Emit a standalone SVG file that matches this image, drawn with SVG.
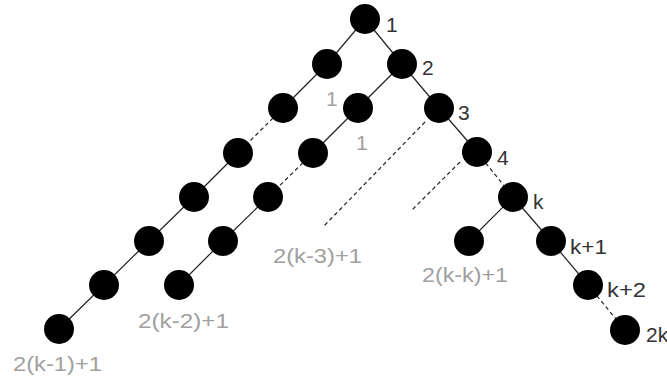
<svg xmlns="http://www.w3.org/2000/svg" width="667" height="379" viewBox="0 0 667 379">
<style>
.n{fill:#000}
.e{stroke:#222;stroke-width:1.2;fill:none}
.d{stroke-dasharray:4 3}
.lb{font-family:"Liberation Sans",Arial,sans-serif;font-size:21px;fill:#333}
.lg{font-family:"Liberation Sans",Arial,sans-serif;font-size:21px;fill:#a0a0a0}
</style>
<rect width="667" height="379" fill="#fff"/>
<g id="connectors">
<line class="e" x1="365" y1="19" x2="327" y2="64"/>
<line class="e" x1="327" y1="64" x2="283" y2="108"/>
<line class="e d" x1="283" y1="108" x2="238" y2="153"/>
<line class="e" x1="238" y1="153" x2="194" y2="197"/>
<line class="e" x1="194" y1="197" x2="149" y2="241"/>
<line class="e" x1="149" y1="241" x2="104" y2="285"/>
<line class="e" x1="104" y1="285" x2="59" y2="329"/>
<line class="e" x1="402" y1="64" x2="358" y2="108"/>
<line class="e" x1="358" y1="108" x2="313" y2="153"/>
<line class="e d" x1="313" y1="153" x2="268" y2="197"/>
<line class="e" x1="268" y1="197" x2="223" y2="241"/>
<line class="e" x1="223" y1="241" x2="179" y2="285"/>
<line class="e" x1="365" y1="19" x2="402" y2="64"/>
<line class="e" x1="402" y1="64" x2="439" y2="108"/>
<line class="e" x1="439" y1="108" x2="477" y2="152"/>
<line class="e d" x1="477" y1="152" x2="513" y2="197"/>
<line class="e" x1="513" y1="197" x2="469" y2="241"/>
<line class="e" x1="513" y1="197" x2="551" y2="241"/>
<line class="e" x1="551" y1="241" x2="588" y2="285"/>
<line class="e d" x1="588" y1="285" x2="625" y2="330"/>
<line class="e d" x1="425" y1="122" x2="323" y2="227"/>
<line class="e d" x1="460" y1="162" x2="411" y2="211"/>
</g>
<g id="n1"><circle class="n" cx="365" cy="19" r="15"/><text class="lb" x="386" y="32">1</text></g>
<g id="nL1"><circle class="n" cx="327" cy="64" r="15"/><text class="lg" x="326" y="106">1</text></g>
<g id="nL2"><circle class="n" cx="283" cy="108" r="15"/></g>
<g id="nL3"><circle class="n" cx="238" cy="153" r="15"/></g>
<g id="nL4"><circle class="n" cx="194" cy="197" r="15"/></g>
<g id="nL5"><circle class="n" cx="149" cy="241" r="15"/></g>
<g id="nL6"><circle class="n" cx="104" cy="285" r="15"/></g>
<g id="nL7"><circle class="n" cx="59" cy="329" r="15"/><text class="lg" x="13" y="371" textLength="89" lengthAdjust="spacingAndGlyphs">2(k-1)+1</text></g>
<g id="n2"><circle class="n" cx="402" cy="64" r="15"/><text class="lb" x="422" y="75">2</text></g>
<g id="nM1"><circle class="n" cx="358" cy="108" r="15"/><text class="lg" x="356" y="150">1</text></g>
<g id="nM2"><circle class="n" cx="313" cy="153" r="15"/></g>
<g id="nM3"><circle class="n" cx="268" cy="197" r="15"/></g>
<g id="nM4"><circle class="n" cx="223" cy="241" r="15"/></g>
<g id="nM5"><circle class="n" cx="179" cy="285" r="15"/><text class="lg" x="138" y="328" textLength="91" lengthAdjust="spacingAndGlyphs">2(k-2)+1</text></g>
<g id="n3"><circle class="n" cx="439" cy="108" r="15"/><text class="lb" x="458" y="120">3</text></g>
<g id="lbl3"><text class="lg" x="273" y="263" textLength="89" lengthAdjust="spacingAndGlyphs">2(k-3)+1</text></g>
<g id="n4"><circle class="n" cx="477" cy="152" r="15"/><text class="lb" x="497" y="165">4</text></g>
<g id="nk"><circle class="n" cx="513" cy="197" r="15"/><text class="lb" x="533" y="209">k</text></g>
<g id="nkL"><circle class="n" cx="469" cy="241" r="15"/><text class="lg" x="422" y="282" textLength="86" lengthAdjust="spacingAndGlyphs">2(k-k)+1</text></g>
<g id="nk1"><circle class="n" cx="551" cy="241" r="15"/><text class="lb" x="570" y="254" textLength="37" lengthAdjust="spacingAndGlyphs">k+1</text></g>
<g id="nk2"><circle class="n" cx="588" cy="285" r="15"/><text class="lb" x="607" y="297" textLength="39" lengthAdjust="spacingAndGlyphs">k+2</text></g>
<g id="n2k"><circle class="n" cx="625" cy="330" r="15"/><text class="lb" x="646" y="342">2k</text></g>
</svg>
